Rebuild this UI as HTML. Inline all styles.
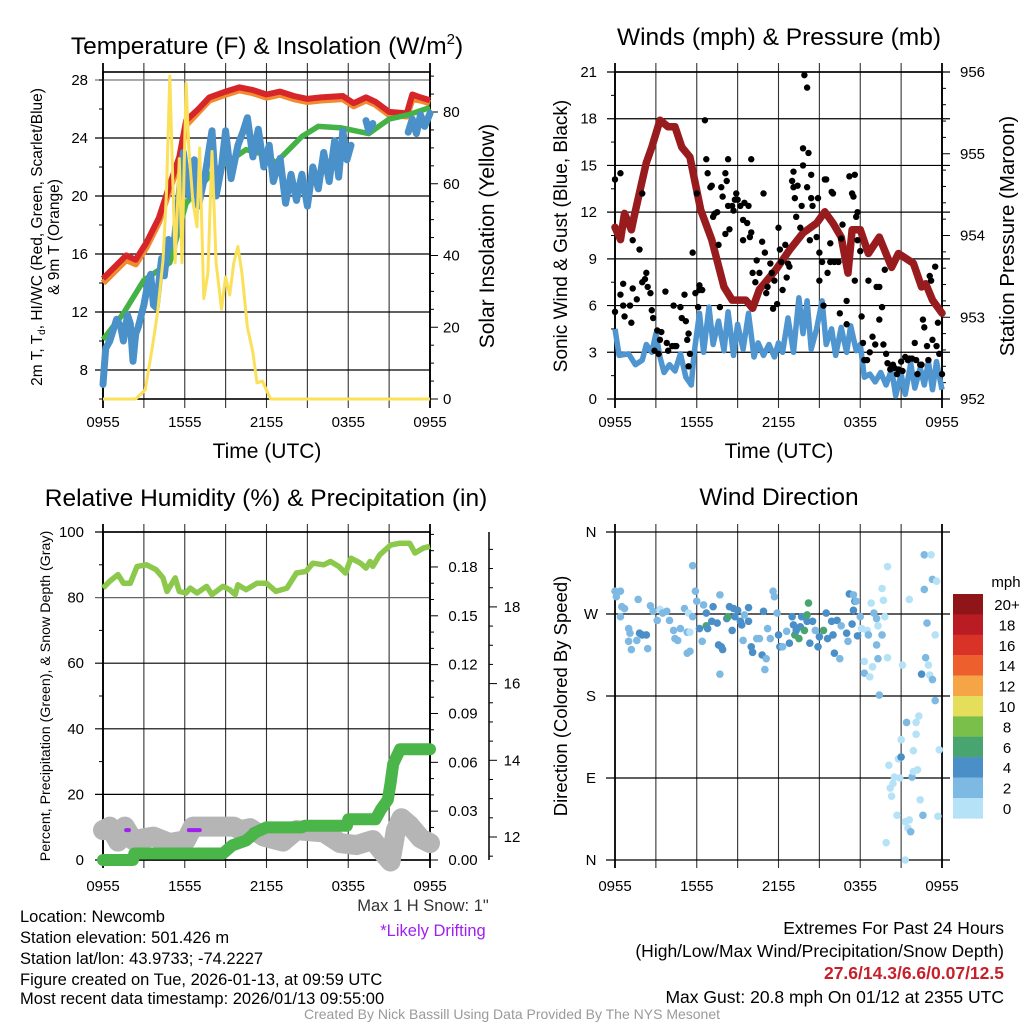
<!DOCTYPE html>
<html><head><meta charset="utf-8"><title>Mesonet Station Summary</title>
<style>
html,body{margin:0;padding:0;background:#fff;}
svg{display:block;font-family:"Liberation Sans",Arial,sans-serif;}
</style></head>
<body>
<svg id="fig" width="1024" height="1024" viewBox="0 0 1024 1024" xmlns="http://www.w3.org/2000/svg">
<rect width="1024" height="1024" fill="#fff"/>
<!-- titles -->
<text x="267" y="54" font-size="24.5" text-anchor="middle">Temperature (F) &amp; Insolation (W/m<tspan font-size="15" dy="-10">2</tspan><tspan dy="10">)</tspan></text>
<text x="779" y="45" font-size="24.5" text-anchor="middle">Winds (mph) &amp; Pressure (mb)</text>
<text x="266" y="506" font-size="24.5" text-anchor="middle">Relative Humidity (%) &amp; Precipitation (in)</text>
<text x="779" y="505" font-size="24.5" text-anchor="middle">Wind Direction</text>
<!-- axis titles -->
<text x="267" y="458" font-size="21" text-anchor="middle">Time (UTC)</text>
<text x="779" y="458" font-size="21" text-anchor="middle">Time (UTC)</text>
<text transform="translate(42,237) rotate(-90)" font-size="15.5" text-anchor="middle">2m T, T<tspan font-size="10" dy="3">d</tspan><tspan dy="-3">, HI/WC (Red, Green, Scarlet/Blue)</tspan></text>
<text transform="translate(59,237) rotate(-90)" font-size="15.5" text-anchor="middle">&amp; 9m T (Orange)</text>
<text transform="translate(494,236) rotate(-90)" font-size="21" text-anchor="middle">Solar Insolation (Yellow)</text>
<text transform="translate(567,236) rotate(-90)" font-size="19" text-anchor="middle">Sonic Wind &amp; Gust (Blue, Black)</text>
<text transform="translate(1014,236) rotate(-90)" font-size="20.5" text-anchor="middle">Station Pressure (Maroon)</text>
<text transform="translate(50,696) rotate(-90)" font-size="14.2" text-anchor="middle">Percent, Precipitation (Green), &amp; Snow Depth (Gray)</text>
<text transform="translate(567,696) rotate(-90)" font-size="18.5" text-anchor="middle">Direction (Colored By Speed)</text>
<!-- footer -->
<g font-size="16.5">
<text x="20" y="922">Location: Newcomb</text>
<text x="20" y="943">Station elevation: 501.426 m</text>
<text x="20" y="964">Station lat/lon: 43.9733; -74.2227</text>
<text x="20" y="985">Figure created on Tue, 2026-01-13, at 09:59 UTC</text>
<text x="20" y="1004">Most recent data timestamp: 2026/01/13 09:55:00</text>
</g>
<text x="423" y="911" font-size="16.5" text-anchor="middle" fill="#333">Max 1 H Snow: 1"</text>
<text x="433" y="936" font-size="16.5" text-anchor="middle" fill="#a020f0">*Likely Drifting</text>
<g font-size="17.5" text-anchor="end">
<text x="1004" y="934">Extremes For Past 24 Hours</text>
<text x="1004" y="957">(High/Low/Max Wind/Precipitation/Snow Depth)</text>
<text x="1004" y="979" fill="#c8202a" font-weight="bold">27.6/14.3/6.6/0.07/12.5</text>
<text x="1004" y="1003">Max Gust: 20.8 mph On 01/12 at 2355 UTC</text>
</g>
<text x="512" y="1019" font-size="14" text-anchor="middle" fill="#9a9a9a">Created By Nick Bassill Using Data Provided By The NYS Mesonet</text>
<text x="1006" y="587" font-size="15" text-anchor="middle">mph</text>
</svg>
<script>
// ---------- data ----------
const xTickLabels = ['0955','1555','2155','0355','0955'];
const tempHours = [0,1.7,2.4,3.2,4.1,4.8,5.6,6.1,7,7.8,9,10,11,12,13,14,15,16,17.6,18.4,19.3,20,21,22.3,22.7,23.3,24];
const tempRed =   [14.3,15.9,15.6,16.8,18.5,20.5,22.7,25.2,26,26.8,27.2,27.5,27.3,27,27.2,26.9,26.7,26.8,26.9,26.4,26.8,26.5,25.8,25.7,27,26.8,26.6];
const temp9m =    [14.0,15.6,15.3,16.5,18.2,20.2,22.4,24.9,25.8,26.6,27.0,27.3,27.1,26.8,27.0,26.7,26.5,26.6,26.7,26.2,26.6,26.3,25.6,25.5,26.7,26.6,26.4];
const dewHours = [0,1.5,3,4.9,6.1,8,10.5,11.7,12.7,14.6,15.8,17.5,19.5,21,22.4,24];
const dewVals =  [10.1,11.9,14.2,15.4,19.5,21.6,23.2,22.9,22.3,24.1,24.8,24.7,24.3,25.3,25.6,26.1];
const wcHours = [0,0.2,0.5,1,1.3,1.5,1.8,2,2.2,2.4,2.6,3,3.3,3.5,3.7,3.9,4.3,4.5,4.8,5.2,5.4,5.6,5.9,6.3,6.7,7,7.5,8,8.3,8.7,9,9.4,9.9,10.3,10.6,11,11.4,11.8,12.2,12.5,13,13.4,13.8,14.2,14.6,15,15.4,15.8,16.2,16.6,17,17.3,17.6,17.9,18.2,18.7,19.3,19.5,19.8,21,22.4,22.7,23,23.3,23.6,24];
const wcVals = [7,9.5,10,11.5,11,10,11.8,11.2,8.6,10.5,11,12.5,14,14.6,12.5,12.3,15.7,14.5,17,16.5,18.5,20.2,23,20,22.5,19.3,21.5,24.5,20,22,24.5,21.2,23.5,24.5,25.4,22.7,24.6,22,23.5,21,22.6,19.5,21.5,19.7,21.5,19.3,22,20.5,23,21,23.8,21.3,24.5,22.5,23.5,null,25.2,24.5,25,null,24.4,25.3,24.3,25.6,24.8,25.7];
const solarHours = [0,2.4,3.1,3.6,4,4.4,4.65,4.9,5.1,5.3,5.6,5.8,6.1,6.3,6.6,6.9,7.1,7.4,7.7,8,8.3,8.7,9,9.3,9.6,9.9,10.2,10.6,11,11.3,11.7,12.3,24];
const solarVals =  [0,0,2.5,14,24,38.6,57,90,64,38,67,38,88,70,55,48,70,28,35,69,38,25,34,29,38,42.5,35,20,13,4.5,5,0,0];
const presHours = [0,0.4,0.7,1.2,1.4,1.9,2.3,2.7,3.3,3.9,4.4,4.9,5.5,6.3,7.1,8,8.6,9.6,10.1,10.6,11.8,12.8,13.8,14.8,15.4,16,16.6,17.1,17.4,18,18.6,19.4,20.3,20.8,21.9,22.5,22.8,23.3,24];
const presVals =  [954.1,953.95,954.27,954.07,954.23,954.6,954.89,955.08,955.41,955.33,955.33,955.08,954.96,954.31,953.95,953.37,953.21,953.21,953.11,953.34,953.58,953.82,954.03,954.15,954.29,954.15,953.98,953.54,954.07,954.07,953.78,953.98,953.61,953.78,953.66,953.37,953.41,953.21,953.05];
const windHours = [0,0.3,1,1.5,2,2.3,2.7,3,3.3,3.6,4,4.4,4.8,5.2,5.6,5.8,6.2,6.5,6.9,7.2,7.6,8,8.3,8.7,9,9.4,9.8,10.2,10.5,10.9,11.3,11.7,12,12.3,12.7,13.1,13.5,13.8,14.1,14.4,14.8,15.2,15.5,15.9,16.2,16.6,17,17.3,17.7,18,18.3,18.7,19.1,19.5,19.9,20.3,20.6,21,21.3,21.7,22,22.4,22.7,23,23.3,23.6,24];
const windVals = [4.5,2.8,2.9,2.2,2.5,3.5,3.0,4.2,2.7,1.7,2.2,1.8,2.9,1.4,0.9,2.9,5.5,3,5.9,3.5,5,3.1,5.6,2.8,4.8,3.2,5.5,2.7,3.6,2.8,3.5,2.7,3.6,3,5.2,3,6.5,4.2,6.3,3.2,4.5,6.3,3.5,4.5,2.8,4.6,3.0,4.7,3.1,3.5,1.4,1.6,1.1,1.7,0.9,1.9,0.2,1.6,0.3,2.3,0.7,2.0,0.9,2.4,0.6,2.4,0.6];
const gustHours = [0,0.4,0,0.4,0.6,0.6,0.7,1.1,1.2,1.3,1.3,1.8,1.6,2.0,2.0,2.2,2.3,2.4,2.6,2.7,2.8,2.9,3.1,3.2,3.3,3.4,3.7,3.8,3.9,4.2,4.3,4.4,4.5,4.8,4.9,5.1,5.2,5.4,5.3,5.4,5.5,5.7,5.9,6.0,6.1,6.2,6.2,6.4,6.6,6.7,6.8,7.0,7.1,7.2,7.3,7.5,7.6,7.7,7.8,7.9,8.1,8.1,8.2,8.3,8.3,8.4,8.6,8.7,8.8,8.9,9.0,9.2,9.4,9.4,9.5,9.7,9.8,9.9,10.0,10.0,10.1,10.3,10.4,10.6,10.8,10.9,11.0,11.1,11.2,11.4,11.5,11.6,11.7,11.9,12.0,12.1,12.2,12.3,12.5,12.6,12.7,12.8,13.0,13.1,13.1,13.2,13.3,13.4,13.6,13.7,13.8,13.8,13.9,14.1,14.1,14.2,14.3,14.4,14.4,14.5,14.8,14.9,15.0,15.0,15.2,15.3,15.4,15.5,15.6,15.8,15.8,15.9,16.0,16.1,16.4,16.5,16.6,16.7,17.0,17.0,17.2,17.4,17.5,17.6,17.6,17.7,17.8,17.8,18.0,18.1,18.2,18.3,18.5,18.6,18.7,18.9,19.1,19.2,19.4,19.4,19.6,19.7,19.8,19.9,20.0,20.2,20.3,20.4,20.5,20.7,20.8,21.0,21.1,21.3,21.5,21.6,21.8,22.0,22.1,22.2,22.4,22.5,22.6,22.7,22.9,23.0,23.1,23.2,23.3,23.5,23.6,23.7,23.8,24.0];
const gustVals = [14.1,14.5,5.6,6.7,7.4,6.0,5.3,6.0,4.9,10.2,7.1,9.6,6.4,7.5,13.2,7.7,8.1,7.2,6.8,5.7,5.2,3.1,4.4,2.9,3.8,4.3,6.9,3.6,3.1,3.4,6.0,3.4,3.4,5.9,5.2,6.7,5.0,4.2,3.8,2.1,2.9,9.4,6.8,13.2,5.9,7.3,7.0,7.0,17.9,15.4,14.5,13.6,13.7,11.7,11.9,12.0,9.9,5.9,13.6,13.0,14.5,10.6,14.0,15.4,12.4,10.9,12.4,12.1,12.8,13.2,12.8,12.4,11.5,10.2,12.6,11.3,12.4,10.4,15.4,10.7,8.1,7.5,8.9,8.1,10.1,13.2,9.4,6.8,7.2,8.7,8.1,5.8,7.6,6.1,11.0,9.6,8.8,7.0,9.9,7.8,8.7,8.5,14.0,13.6,14.6,12.9,11.7,13.7,11.0,12.4,16.1,15.0,20.8,20.0,13.6,15.8,10.2,14.4,12.9,12.4,10.4,12.9,9.4,7.6,8.8,6.0,14.1,14.1,8.1,10.0,8.8,13.3,13.2,8.8,8.8,5.5,10.3,11.2,6.3,4.8,14.3,13.2,13.0,7.6,14.4,11.7,12.0,10.2,9.5,5.3,3.6,2.5,2.5,7.6,3.0,4.0,3.5,7.2,7.2,5.1,5.9,3.5,8.3,2.9,2.3,1.9,2.1,2.2,2.0,1.6,1.9,2.4,1.8,2.7,2.5,2.6,2.6,3.6,2.5,1.6,2.2,2.2,5.1,4.6,3.4,2.5,7.9,7.6,3.8,8.5,3.4,4.9,2.9,1.6];
const rhHours = [0,0.5,1.1,1.5,2,2.5,3.2,3.9,4.4,4.7,5.3,5.6,6.1,6.4,6.9,7.6,8,8.8,9.3,9.7,9.9,10.5,11.3,12,12.7,13.5,14.2,14.9,15.4,16.2,16.7,17.3,17.8,18.2,18.9,19.3,19.6,19.8,20.3,21.1,21.8,22.5,22.9,23.5,24];
const rhVals =  [82.9,85,87,84.4,84.4,89.5,90,88.5,86,81.9,86,81.9,81.4,82.9,81.4,83.4,80.9,83.4,82.4,80.9,83.9,82.4,84.4,84.4,81.9,82.9,87.5,88,90.5,90,91,89.5,87.5,92,90.5,89,91,89.5,93,96,96.6,96.6,93.6,95.1,95.6];
const precipHours = [0,2.2,2.3,8.8,9.5,10.5,11.2,12,14.6,14.8,17.9,18,20,20.4,20.9,21.1,21.3,21.8,24];
const precipVals =  [0,0,0.004,0.004,0.009,0.012,0.017,0.020,0.020,0.021,0.021,0.025,0.025,0.031,0.037,0.047,0.059,0.068,0.068];
const snowHours = [0,0.5,1.1,1.6,2.2,3.7,4.9,6.1,6.6,9.6,10.1,10.8,11.8,13.2,14.2,16.2,17.4,18.6,19.8,20.6,21.1,21.5,21.9,22.5,23.3,24];
const snowVals =  [12.18,12.27,11.88,12.27,11.92,12.01,11.84,11.92,12.27,12.27,12.18,12.23,12.01,11.88,12.18,12.12,11.84,11.79,11.92,11.57,11.36,12.18,12.49,12.31,11.97,11.84];
const driftStart = [1.7,6.3,10.9];
const driftEnd =   [1.9,7.1,11.0];
const driftDepth = [12.18,12.18,12.18];
const dirHours = [0,0.4,0.1,0.5,0.7,0.4,1.0,1.1,1.0,1.2,1.6,1.7,1.8,2.0,2.3,2.4,2.6,2.8,3.1,3.3,3.5,3.8,4.0,4.3,4.4,4.6,4.8,5.1,5.4,5.3,5.5,5.3,5.5,5.7,5.7,5.9,6.0,6.2,6.4,6.5,6.7,6.7,6.8,7.1,7.2,7.5,7.6,7.7,7.7,7.8,7.9,8.2,8.3,8.4,8.6,8.7,8.8,9.0,9.2,9.3,9.4,9.5,9.8,9.8,10.0,10.1,10.4,10.6,10.8,10.9,11.0,11.1,11.2,11.4,11.6,11.7,11.9,12.0,12.1,12.3,12.6,12.8,13.0,13.1,13.2,13.3,13.5,13.6,13.7,13.9,14.1,14.2,14.1,14.3,14.5,14.7,14.9,15.0,15.3,15.5,15.6,15.9,16.0,16.1,16.3,16.5,16.6,17.0,17.1,17.2,17.4,17.5,17.6,17.5,17.7,17.8,18.0,18.1,18.3,18.3,18.5,18.7,18.6,18.8,18.9,19.0,19.2,19.2,19.3,19.3,19.4,19.6,19.6,19.7,19.8,20.0,20.0,19.9,20.1,20.2,20.3,20.4,20.5,20.7,20.8,20.9,21.0,21.0,21.1,21.3,21.3,21.4,21.5,21.6,21.6,21.7,21.8,21.9,21.9,22.1,22.1,22.2,22.3,22.4,22.5,22.6,22.7,22.7,22.8,22.9,23.0,23.1,23.2,23.3,23.5,23.3,23.5,23.6,23.7,23.8,24.0];
const dirDegrees = [295,295,289,278,276,267,254,249,240,231,241,286,249,247,247,232,279,273,263,275,271,273,263,252,243,241,254,276,271,250,250,227,229,323,267,295,284,254,240,280,271,257,254,262,278,260,236,204,291,234,231,265,267,278,252,276,267,274,262,258,241,269,277,262,234,228,243,243,225,273,209,221,254,243,295,289,271,247,234,234,251,238,267,258,247,252,243,256,267,252,262,282,269,238,262,252,234,245,252,271,243,262,247,227,263,221,257,249,240,292,259,274,284,291,284,246,267,254,218,205,252,201,247,282,212,271,265,236,257,221,181,247,298,285,267,222,322,19,104,79,70,84,91,49,111,90,113,132,214,42,0,151,35,286,44,31,91,120,97,151,138,99,158,66,204,49,335,297,222,260,214,203,335,198,175,308,247,306,48,121];
const dirSpeeds = [3,3,3,3,3,3,3,3,3,3,3,3,5,5,5,3,3,3,3,1,3,3,3,3,3,3,3,3,1,3,1,3,3,3,3,3,3,5,3,3,5,7,5,5,5,5,5,3,3,5,5,5,7,5,5,5,5,5,5,5,3,3,5,5,5,5,3,3,5,5,3,3,3,3,3,3,3,5,5,3,3,5,5,5,7,5,7,5,5,7,5,7,7,5,5,3,5,5,7,5,5,5,5,5,5,3,3,5,3,5,5,5,5,3,3,5,3,1,1,3,1,1,3,1,1,3,3,3,1,3,3,3,1,1,1,1,1,1,1,1,1,1,1,1,1,1,5,1,1,1,1,3,1,1,1,3,3,1,1,1,1,1,1,1,5,3,3,3,3,3,1,1,1,3,3,3,1,1];
const cbLabels = ['20+','18','16','14','12','10','8','6','4','2','0'];
const cbColors = ['#8f1519','#b91c22','#d93328','#ee5f2e','#f6a546','#e5de5a','#7bbf4b','#48a56f','#4a8fc7','#7db9e2','#b6e2f7'];

// ---------- helpers ----------
const NS = 'http://www.w3.org/2000/svg';
const svg = document.getElementById('fig');
function mk(tag, attrs, parent) {
  const e = document.createElementNS(NS, tag);
  for (const k in attrs) e.setAttribute(k, attrs[k]);
  (parent || svg).appendChild(e);
  return e;
}
function txt(x, y, s, size, anchor, parent) {
  const t = mk('text', {x: x, y: y, 'font-size': size, 'text-anchor': anchor}, parent);
  t.textContent = s;
  return t;
}
function pathFrom(xs, ys, fx, fy) {
  let d = '', pen = false;
  const n = Math.min(xs.length, ys.length);
  for (let i = 0; i < n; i++) {
    if (ys[i] === null || ys[i] === undefined) { pen = false; continue; }
    d += (pen ? 'L' : 'M') + fx(xs[i]).toFixed(1) + ',' + fy(ys[i]).toFixed(1);
    pen = true;
  }
  return d;
}
function xAxis(g, x0, x1, yb, yTop, yBot, name) {
  const sx = h => x0 + h * (x1 - x0) / 24;
  for (let h = 0; h <= 24; h += 3) {
    const l = mk('line', {x1: sx(h), x2: sx(h), y1: yTop, y2: yBot, stroke: (h===0||h===24)?'#000':'#333', 'stroke-width': (h===0||h===24)?1.8:1.1}, g);
    
    
  }
  for (let i = 0; i < xTickLabels.length; i++) {
    const t = txt(sx(i * 6), yb, xTickLabels[i], 15, 'middle', g);
    
    
  }
  return sx;
}

// ---------- panel 1: temperature ----------
const g1 = mk('g', {});


const sx1 = xAxis(g1, 103, 430, 427, 63, 408, 'temperature');
const yT = v => 399 - (v - 6) * 14.5;
const yI = v => 399 - v * 3.5875;
[8,12,16,20,24,28].forEach(v => {
  const l = mk('line', {x1: 95, x2: 430, y1: yT(v), y2: yT(v), stroke: v===28?'#777':'#000', 'stroke-width': 1.2}, g1);
  
  
  const t = txt(88, yT(v) + 5, String(v), 15, 'end', g1);
  
  
});
for (let v = 6; v <= 28; v += 2) { const l = mk('line', {x1: 99, x2: 103, y1: yT(v), y2: yT(v), stroke: '#000'}, g1);   }
for (let v = 0; v <= 90; v += 5) {
  const l = mk('line', {x1: 430, x2: v % 20 === 0 ? 438 : 434, y1: yI(v), y2: yI(v), stroke: '#000'}, g1);
  
  
}
[0,20,40,60,80].forEach(v => { const t = txt(443, yI(v) + 5, String(v), 15, 'start', g1);   });
const box1 = mk('rect', {x: 103, y: 72, width: 327, height: 327, fill: 'none', stroke: '#000', 'stroke-width': 1.6}, g1);


const p9 = mk('path', {d: pathFrom(tempHours, temp9m, sx1, yT), fill: 'none', stroke: '#f28a30', 'stroke-width': 6.5, 'stroke-linejoin': 'round'}, g1);


const pr = mk('path', {d: pathFrom(tempHours, tempRed, sx1, yT), fill: 'none', stroke: '#d7262a', 'stroke-width': 6, 'stroke-linejoin': 'round'}, g1);


const pd = mk('path', {d: pathFrom(dewHours, dewVals, sx1, yT), fill: 'none', stroke: '#45b245', 'stroke-width': 5.5, 'stroke-linejoin': 'round'}, g1);


const pw = mk('path', {d: pathFrom(wcHours, wcVals, sx1, yT), fill: 'none', stroke: '#4a90c9', 'stroke-width': 7, 'stroke-linejoin': 'round', 'stroke-linecap': 'round'}, g1);


const ps = mk('path', {d: pathFrom(solarHours, solarVals, sx1, yI), fill: 'none', stroke: '#fbe05a', 'stroke-width': 3, 'stroke-linejoin': 'round'}, g1);



// ---------- panel 2: winds ----------
const g2 = mk('g', {});


const sx2 = xAxis(g2, 615, 942, 427, 63, 408, 'winds');
const yW = v => 399 - v * 15.571;
const yP = p => 399 - (p - 952) * 81.75;
for (let v = 0; v <= 21; v += 3) {
  const l = mk('line', {x1: 607, x2: 950, y1: yW(v), y2: yW(v), stroke: '#000', 'stroke-width': 1.2}, g2);
  
  
  const t = txt(597, yW(v) + 5, String(v), 15, 'end', g2);
  
  
}
for (let v = 1.5; v < 21; v += 3) { const l = mk('line', {x1: 611, x2: 615, y1: yW(v), y2: yW(v), stroke: '#000'}, g2);   }
for (let p = 952; p <= 956.001; p += 0.2) {
  const major = Math.abs(p - Math.round(p)) < 0.01;
  const l = mk('line', {x1: 942, x2: major ? 950 : 946, y1: yP(p), y2: yP(p), stroke: '#000'}, g2);
  
  
}
[952,953,954,955,956].forEach(p => { const t = txt(960, yP(p) + 5, String(p), 15, 'start', g2);   });
const box2 = mk('rect', {x: 615, y: 72, width: 327, height: 327, fill: 'none', stroke: '#000', 'stroke-width': 1.6}, g2);


const pwind = mk('path', {d: pathFrom(windHours, windVals, sx2, yW), fill: 'none', stroke: '#4f95d0', 'stroke-width': 5.5, 'stroke-linejoin': 'round'}, g2);


const ppres = mk('path', {d: pathFrom(presHours, presVals, sx2, yP), fill: 'none', stroke: '#981b1e', 'stroke-width': 7.5, 'stroke-linejoin': 'round', 'stroke-linecap': 'round'}, g2);


const nG = Math.min(gustHours.length, gustVals.length);
for (let i = 0; i < nG; i++) {
  const c = mk('circle', {cx: sx2(gustHours[i]), cy: yW(gustVals[i]), r: 3.2, fill: '#000'}, g2);
  
  
}

// ---------- panel 3: humidity ----------
const g3 = mk('g', {});


const sx3 = xAxis(g3, 103, 430, 891, 524, 868, 'humidity');
const yRH = v => 860 - v * 3.28;
const yPr = p => 860 - p * 1628;
const ySn = s => 837 - (s - 12) * 38.35;
for (let v = 0; v <= 100; v += 20) {
  const l = mk('line', {x1: 95, x2: 430, y1: yRH(v), y2: yRH(v), stroke: v===80?'#666':'#000', 'stroke-width': 1.2}, g3);
  
  
  const t = txt(84, yRH(v) + 5, String(v), 15, 'end', g3);
  
  
}
for (let v = 10; v < 100; v += 20) { const l = mk('line', {x1: 99, x2: 103, y1: yRH(v), y2: yRH(v), stroke: '#000'}, g3);   }
for (let k = 0; k <= 20; k++) {
  const p = k * 0.01;
  const major = k % 3 === 0;
  const l = mk('line', {x1: 430, x2: major ? 438 : 434, y1: yPr(p), y2: yPr(p), stroke: '#000'}, g3);
  
  
  if (major && p <= 0.181) { const t = txt(463, yPr(p) + 5, p.toFixed(2), 15, 'middle', g3);   }
}
const snAxis = mk('line', {x1: 489, x2: 489, y1: 532, y2: 860, stroke: '#000', 'stroke-width': 1.5}, g3);


for (let s = 11.5; s <= 19.9; s += 0.5) {
  const major = Math.abs(s % 2) < 0.01;
  const l = mk('line', {x1: 489, x2: major ? 497 : 493, y1: ySn(s), y2: ySn(s), stroke: '#000'}, g3);
  
  
}
[12,14,16,18].forEach(s => { const t = txt(512, ySn(s) + 5, String(s), 15, 'middle', g3);   });
const box3 = mk('rect', {x: 103, y: 532, width: 327, height: 328, fill: 'none', stroke: '#000', 'stroke-width': 1.6}, g3);


const psn = mk('path', {d: pathFrom(snowHours, snowVals, sx3, ySn), fill: 'none', stroke: '#b5b5b5', 'stroke-width': 20, 'stroke-linejoin': 'round', 'stroke-linecap': 'round'}, g3);


for (let i = 0; i < driftStart.length; i++) {
  const l = mk('line', {x1: sx3(driftStart[i]), x2: sx3(driftEnd[i]), y1: ySn(driftDepth[i]), y2: ySn(driftDepth[i]), stroke: '#a020f0', 'stroke-width': 4, 'stroke-linecap': 'round'}, g3);
  
  
}
const ppr = mk('path', {d: pathFrom(precipHours, precipVals, sx3, yPr), fill: 'none', stroke: '#4ab548', 'stroke-width': 12, 'stroke-linejoin': 'round', 'stroke-linecap': 'round'}, g3);


const prh = mk('path', {d: pathFrom(rhHours, rhVals, sx3, yRH), fill: 'none', stroke: '#8cc84b', 'stroke-width': 5.5, 'stroke-linejoin': 'round'}, g3);



// ---------- panel 4: direction ----------
const g4 = mk('g', {});


const sx4 = xAxis(g4, 615, 942, 891, 524, 868, 'direction');
const yD = d => 860 - d * 328 / 360;
const dirLabels = ['N','E','S','W','N'];
for (let i = 0; i < 5; i++) {
  const d = i * 90;
  const l = mk('line', {x1: 606, x2: 950, y1: yD(d), y2: yD(d), stroke: '#000', 'stroke-width': 1.2}, g4);
  
  
  const t = txt(591, yD(d) + 5, dirLabels[i], 15, 'middle', g4);
  
  
}
function speedColor(s) {
  if (s === undefined || s === null || isNaN(s)) s = 1;
  const bin = Math.max(0, Math.min(10, Math.floor(s / 2)));
  return cbColors[10 - bin];
}
const nD = Math.min(dirHours.length, dirDegrees.length);
for (let i = 0; i < nD; i++) {
  const c = mk('circle', {cx: sx4(dirHours[i]), cy: yD(dirDegrees[i]), r: 3.8, fill: speedColor(dirSpeeds[i])}, g4);
  
  
}
for (let i = 0; i < cbLabels.length; i++) {
  const r = mk('rect', {x: 953, y: 594 + i * 20.4, width: 30, height: 20.6, fill: cbColors[i]}, g4);
  
  
  const t = txt(1007, 594 + i * 20.4 + 16, cbLabels[i], 15, 'middle', g4);
  
  
}
</script>
</body></html>
